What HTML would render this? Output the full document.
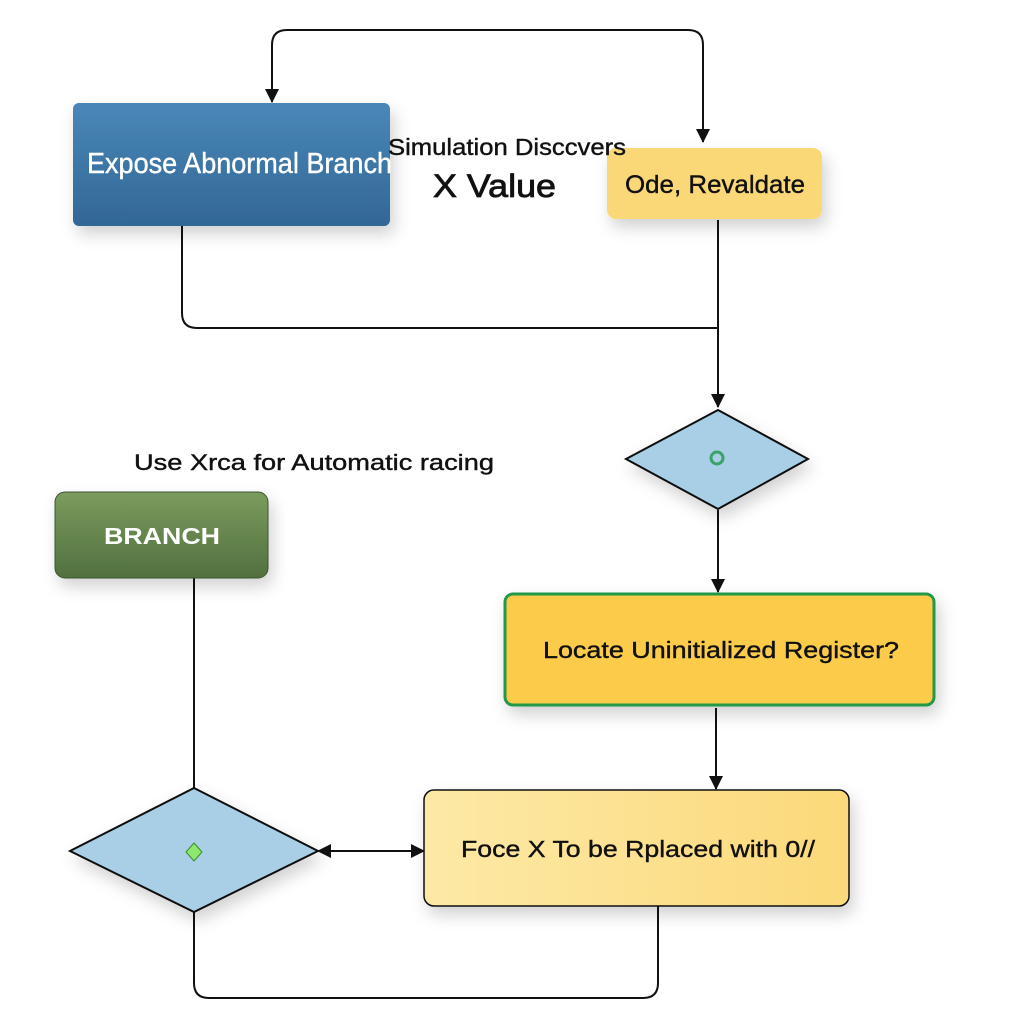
<!DOCTYPE html>
<html><head><meta charset="utf-8"><style>
html,body{margin:0;padding:0;background:#fff;}
body{width:1024px;height:1024px;position:relative;overflow:hidden;font-family:"Liberation Sans",sans-serif;}
</style></head><body>
<svg width="1024" height="1024" style="position:absolute;left:0;top:0" font-family="Liberation Sans, sans-serif">
<defs>
<filter id="sh" x="-20%" y="-20%" width="150%" height="160%"><feDropShadow dx="4" dy="8" stdDeviation="8" flood-color="#000" flood-opacity="0.18"/></filter>
<linearGradient id="bl" x1="0" y1="0" x2="0" y2="1"><stop offset="0" stop-color="#4a87b8"/><stop offset="1" stop-color="#316795"/></linearGradient>
<linearGradient id="gr" x1="0" y1="0" x2="0" y2="1"><stop offset="0" stop-color="#7b9c5e"/><stop offset="1" stop-color="#51703f"/></linearGradient>
<linearGradient id="yl" x1="0" y1="0" x2="1" y2="0"><stop offset="0" stop-color="#fde9a6"/><stop offset="1" stop-color="#fbd97a"/></linearGradient>
<marker id="ar" markerWidth="14" markerHeight="14" refX="13" refY="7" orient="auto" markerUnits="userSpaceOnUse"><path d="M0,0 L14,7 L0,14z" fill="#111"/></marker>
</defs>
<g fill="none" stroke="#111" stroke-width="2">
<path d="M703,140 V45 Q703,30 688,30 H287 Q272,30 272,45 V102" marker-end="url(#ar)"/>
<path d="M703,60 V142" marker-end="url(#ar)"/>
<path d="M182,225 V313 Q182,328 197,328 H718"/>
<path d="M718,220 V407" marker-end="url(#ar)"/>
<path d="M718,510 V592" marker-end="url(#ar)"/>
<path d="M716,708 V789" marker-end="url(#ar)"/>
<path d="M194,578 V788"/>
<path d="M330,851 H424" marker-end="url(#ar)"/>
<path d="M410,851 H318" marker-end="url(#ar)"/>
<path d="M194,912 V983 Q194,998 209,998 H643 Q658,998 658,983 V906"/>
</g>
<rect x="73" y="103" width="317" height="123" rx="6" fill="url(#bl)" filter="url(#sh)"/>
<rect x="607" y="148" width="215" height="71" rx="9" fill="#fbd877" filter="url(#sh)"/>
<rect x="55" y="492" width="213" height="86" rx="10" fill="url(#gr)" stroke="#3e5530" stroke-width="1" filter="url(#sh)"/>
<polygon points="718,410 808,459 718,509 626,459" fill="#a9cfe6" stroke="#111" stroke-width="2" filter="url(#sh)"/>
<circle cx="717" cy="458" r="6" fill="none" stroke="#3aa36a" stroke-width="3"/>
<rect x="505" y="594" width="429" height="111" rx="8" fill="#fbcb4a" stroke="#22994a" stroke-width="3" filter="url(#sh)"/>
<rect x="424" y="790" width="425" height="116" rx="10" fill="url(#yl)" stroke="#111" stroke-width="1.5" filter="url(#sh)"/>
<polygon points="194,788 318,851 194,912 70,851" fill="#a9cfe6" stroke="#111" stroke-width="2" filter="url(#sh)"/>
<polygon points="194,843 202,852 194,861 186,852" fill="#8ee870" stroke="#3a8a2a" stroke-width="1"/>
<g fill="#111" stroke="#111" stroke-width="0.4">
<text x="87" y="173" font-size="29" fill="#fff" stroke="#fff" textLength="305" lengthAdjust="spacingAndGlyphs">Expose Abnormal Branch</text>
<text x="388" y="155" font-size="23" textLength="238" lengthAdjust="spacingAndGlyphs">Simulation Disccvers</text>
<text x="433" y="197" font-size="32" stroke-width="0.8" textLength="123" lengthAdjust="spacingAndGlyphs">X Value</text>
<text x="625" y="193" font-size="25" textLength="180" lengthAdjust="spacingAndGlyphs">Ode, Revaldate</text>
<text x="134" y="470" font-size="22" textLength="360" lengthAdjust="spacingAndGlyphs">Use Xrca for Automatic racing</text>
<text x="104" y="544" font-size="23" font-weight="bold" fill="#fff" stroke="none" textLength="116" lengthAdjust="spacingAndGlyphs">BRANCH</text>
<text x="543" y="658" font-size="23" textLength="356" lengthAdjust="spacingAndGlyphs">Locate Uninitialized Register?</text>
<text x="461" y="857" font-size="23" textLength="354" lengthAdjust="spacingAndGlyphs">Foce X To be Rplaced with 0//</text>
</g>
</svg>
</body></html>
